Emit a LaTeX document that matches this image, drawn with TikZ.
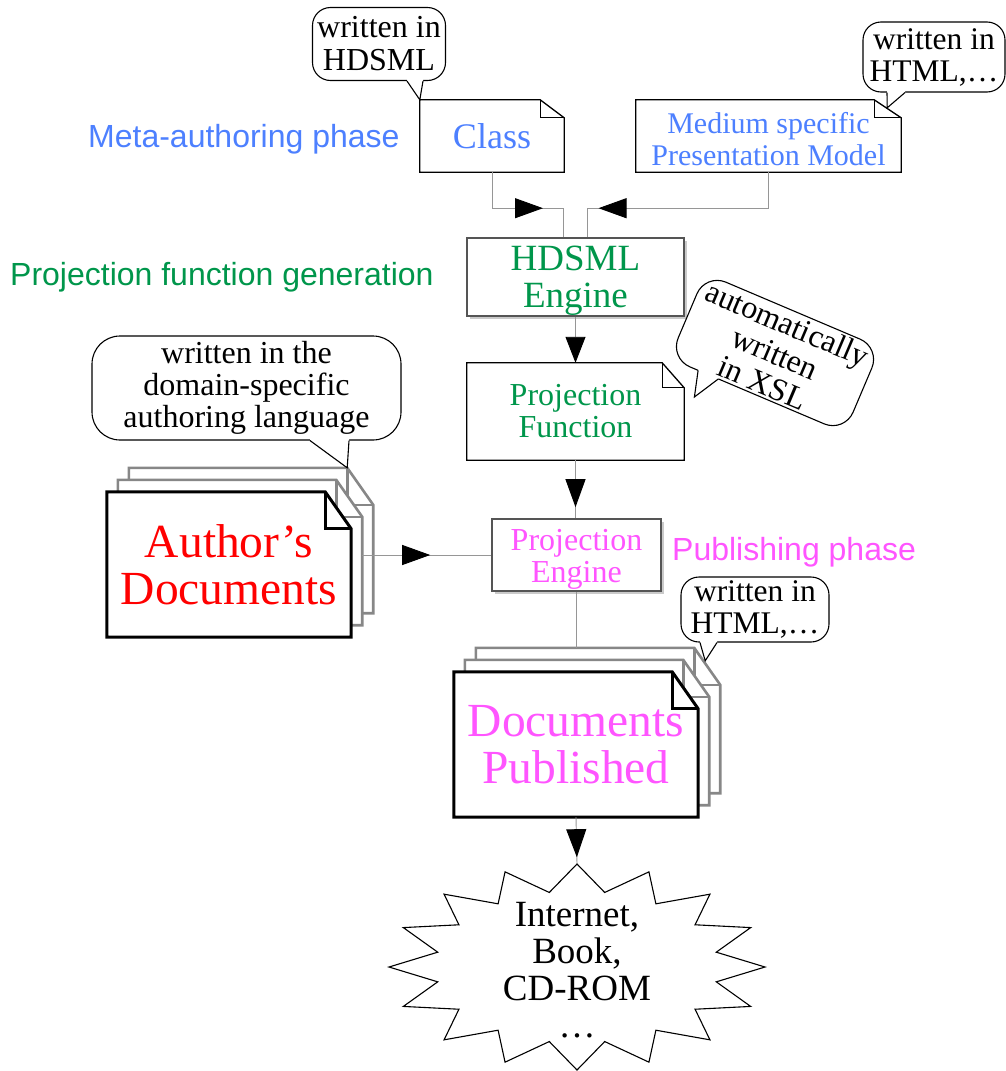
\documentclass[tikz,border=0pt]{standalone}
\usepackage{fontspec}
\setmainfont{Liberation Serif}
\newfontfamily\helv{Liberation Sans}
\usetikzlibrary{arrows.meta,decorations.markings,backgrounds,shadows}
\definecolor{cblue}{RGB}{77,128,255}
\definecolor{cgreen}{RGB}{0,150,75}
\definecolor{cmag}{RGB}{255,85,255}
\definecolor{cred}{RGB}{255,0,0}
\definecolor{wirec}{RGB}{150,150,150}
\definecolor{stackgrey}{RGB}{135,135,135}
\definecolor{engborder}{RGB}{85,85,85}
\newcommand\fsz[2]{\fontsize{#1}{#2}\selectfont}
% folded-corner outline around a node: #1 node, #2 fold width, #3 fold height, #4 style
\newcommand\folddoc[4]{%
  \filldraw[#4] (#1.south west) -- (#1.north west) -- ([xshift=-#2]#1.north east)
     -- ([yshift=-#3]#1.north east) -- (#1.south east) -- cycle;
  \draw[#4,fill=none] ([xshift=-#2]#1.north east) -- ([xshift=-#2,yshift=-#3]#1.north east)
     -- ([yshift=-#3]#1.north east);}
% callout tail: #1 base a, #2 tip, #3 base b (named coordinates)
\newcommand\calltail[3]{%
  \fill[white] ([yshift=3pt]#1) -- (#1) -- (#2) -- (#3) -- ([yshift=3pt]#3) -- cycle;
  \draw[line width=1.1pt] (#1) -- (#2) -- (#3);}
\begin{document}
\begin{tikzpicture}[x=1pt,y=-1pt,
  bigtri/.tip={Triangle[length=28pt,width=20pt,color=black,fill=black]},
  box/.style={inner sep=0pt, align=center},
  wire/.style={draw=wirec, line width=0.9pt},
  thin doc/.style={draw=black, line width=1.3pt, fill=white},
  front doc/.style={draw=black, line width=3pt, fill=white},
  back doc/.style={draw=stackgrey, line width=2.6pt, fill=white},
  engine/.style={box, draw=engborder, line width=1.5pt, fill=white,
     drop shadow={shadow xshift=3pt, shadow yshift=-3pt, fill=black!35, opacity=0.6}},
  callout/.style={box, draw=black, line width=1.1pt, fill=white, rounded corners=18pt},
  phase/.style={inner sep=0pt, anchor=base west, font=\helv\fsz{32}{34}},
  midarrow/.style={postaction={decorate}, decoration={markings, mark=at position #1 with {\arrow{bigtri}}}},
]
\useasboundingbox (0,0) rectangle (1006,1071);

% ---- phase labels
\node[phase, text=cblue] (meta) at (88,147) {Meta-authoring phase};
\node[phase, text=cgreen] (pfg) at (10,285) {Projection function generation};
\node[phase, text=cmag] (pub) at (672,560) {Publishing phase};

% ---- main nodes
\node[box, text=cblue, font=\fsz{36}{38}, minimum width=144pt, minimum height=72pt] (class) at (492,136) {Class};
\node[box, minimum width=265pt, minimum height=72pt] (medium) at (768.5,136) {};
\node[box, text=cblue, font=\fsz{30}{32}] (mediumT) at ([yshift=-3pt]medium.center) {Medium specific\\Presentation Model};
\node[engine, minimum width=217pt, minimum height=78pt] (hdsml) at (575.5,277) {};
\node[box, text=cgreen, font=\fsz{37}{37}] (hdsmlT) at ([yshift=-4pt]hdsml.center) {HDSML\\Engine};
\node[box, text=cgreen, font=\fsz{32}{32}, minimum width=217pt, minimum height=97pt] (pf) at (575.5,411.5) {Projection\\Function};
\node[engine, minimum width=169pt, minimum height=72pt] (pe) at (576.5,555) {};
\node[box, text=cmag, font=\fsz{32}{32}] (peT) at ([yshift=-4pt]pe.center) {Projection\\Engine};

% ---- stacks
\node[box, minimum width=244pt, minimum height=145pt] (authC) at (251,540.5) {};
\node[box, minimum width=244pt, minimum height=145pt] (authB) at (240,552.5) {};
\node[box, minimum width=244pt, minimum height=145pt, text=cred, font=\fsz{47.5}{47}] (authA) at (229,564.5) {Author’s\\Documents};
\node[box, minimum width=244pt, minimum height=145pt] (dpC) at (598,720.5) {};
\node[box, minimum width=244pt, minimum height=145pt] (dpB) at (587,732.5) {};
\node[box, minimum width=244pt, minimum height=145pt, text=cmag, font=\fsz{47.5}{47}] (dpA) at (576,744.5) {Documents\\Published};

\begin{scope}[on background layer]
  \folddoc{class}{24pt}{18pt}{thin doc}
  \folddoc{medium}{27pt}{18pt}{thin doc}
  \folddoc{pf}{22pt}{25pt}{thin doc}
  \folddoc{authC}{26pt}{37pt}{back doc}
  \folddoc{authB}{26pt}{37pt}{back doc}
  \folddoc{authA}{26pt}{37pt}{front doc}
  \folddoc{dpC}{26pt}{37pt}{back doc}
  \folddoc{dpB}{26pt}{37pt}{back doc}
  \folddoc{dpA}{26pt}{37pt}{front doc}
\end{scope}

% ---- starburst
\coordinate (starc) at (577,967);
\coordinate (startop) at (577,864);
\draw[line width=1.1pt, fill=white, shift={(starc)}]
  plot[variable=\k, samples at={0,...,31}]
  ({(165+23*cos(\k*180))*cos(90+\k*11.25)}, {-(89.5+13.5*cos(\k*180))*sin(90+\k*11.25)}) -- cycle;
\node[box, font=\fsz{37}{37}] (web) at (577,970) {Internet,\\Book,\\CD-ROM\\…};

% ---- connectors
\draw[wire, midarrow=87pt] (class.south) -- ++(0,36) -| ([xshift=-12pt]hdsml.north);
\draw[wire, midarrow=206pt] (medium.south) -- ++(0,36) -| ([xshift=12pt]hdsml.north);
\draw[wire, -{bigtri[length=26pt]}] (hdsml.south) -- (pf.north);
\draw[wire, midarrow=47pt] (pf.south) -- (pf.south |- pe.north);
\draw[wire, midarrow=68pt] (authB.east |- pe.west) -- (pe.west);
\draw[wire] (pe.south) -- (pe.south |- dpC.north);
\draw[wire, midarrow=40pt] (dpA.south) -- (startop);

% ---- callouts
\node[callout, font=\fsz{32}{33}, minimum width=133pt, minimum height=73pt] (c1) at (379,44) {written in\\HDSML};
\coordinate (c1a) at ([xshift=28pt]c1.south);
\coordinate (c1b) at ([xshift=44pt]c1.south);
\calltail{c1a}{class.north west}{c1b}

\node[callout, font=\fsz{31.5}{32}, minimum width=142pt, minimum height=70pt] (c2) at (934,57) {written in\\HTML,…};
\coordinate (c2a) at ([xshift=-47pt]c2.south);
\coordinate (c2b) at ([xshift=-29pt]c2.south);
\coordinate (c2t) at ([xshift=-14pt,yshift=-8pt]medium.north east);
\calltail{c2a}{c2t}{c2b}

\node[callout, rounded corners=28pt, font=\fsz{32}{32}, minimum width=309pt, minimum height=104pt] (c3) at (246.5,388) {written in the\\domain-specific\\authoring language};
\coordinate (c3a) at ([xshift=63.5pt]c3.south);
\coordinate (c3b) at ([xshift=102.5pt]c3.south);
\coordinate (c3t) at ([xshift=-26pt]authC.north east);
\calltail{c3a}{c3t}{c3b}

\node[callout, font=\fsz{31.5}{32}, minimum width=148pt, minimum height=65pt] (c4) at (755,609.5) {written in\\HTML,…};
\coordinate (c4a) at ([xshift=-55pt]c4.south);
\coordinate (c4b) at ([xshift=-38pt]c4.south);
\coordinate (c4t) at ([xshift=-15pt,yshift=-13pt]dpC.north east);
\calltail{c4a}{c4t}{c4b}

\begin{scope}[shift={(775,353)}, rotate=-23]
  \draw[line width=1.1pt, fill=white, rounded corners=22pt] (-95,-46) rectangle (95,46);
  \fill[white] (-64,42) -- (-64,46) -- (-57,72) -- (-42,46) -- (-42,42) -- cycle;
  \draw[line width=1.1pt] (-64,46) -- (-57,72) -- (-42,46);
  \node[box, rotate=-23, font=\fsz{32}{32}] (xsl) at (0,0) {automatically\\written\\in XSL};
\end{scope}
\end{tikzpicture}
\end{document}
